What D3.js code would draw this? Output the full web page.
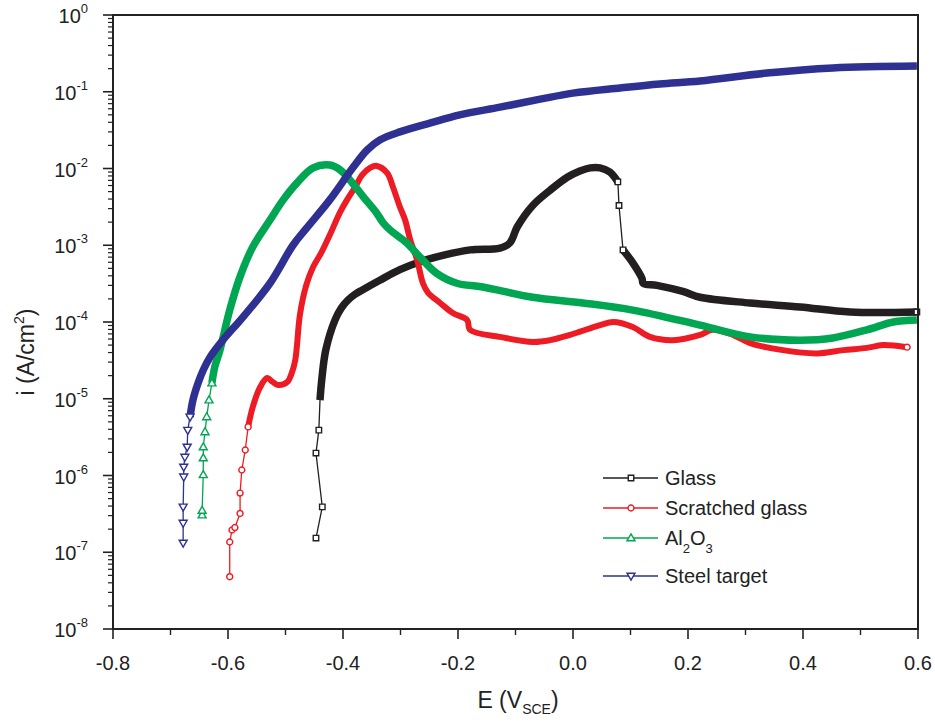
<!DOCTYPE html>
<html><head><meta charset="utf-8">
<script src="https://cdn.jsdelivr.net/npm/d3@7"></script>
<style>
body{margin:0;background:#fff}
svg{display:block}
text{font-family:"Liberation Sans",Arial,Helvetica,sans-serif;fill:#222}
</style>
</head><body>
<svg id="chart" width="935" height="727"></svg>
<script>
// ---------- data (E in V vs SCE, i in A/cm^2) ----------
const glassE = [-0.447,-0.436,-0.447,-0.442,-0.440,-0.437,-0.430,-0.414,-0.403,-0.391,-0.379,-0.367,-0.336,-0.301,-0.266,-0.223,-0.179,-0.127,-0.110,-0.097,-0.070,-0.040,-0.010,0.012,0.030,0.047,0.064,0.078,0.080,0.087,0.104,0.120,0.122,0.146,0.191,0.221,0.308,0.395,0.482,0.598];
const glassI = [1.53e-7,3.9e-7,1.96e-6,3.9e-6,9.6e-6,1.75e-5,4.3e-5,1.06e-4,1.52e-4,1.94e-4,2.3e-4,2.6e-4,3.5e-4,4.8e-4,6.1e-4,7.5e-4,8.7e-4,9.2e-4,1.07e-3,1.73e-3,3.3e-3,5.2e-3,7.7e-3,9.3e-3,1.02e-2,1.02e-2,9.0e-3,6.7e-3,3.3e-3,8.7e-4,5.9e-4,3.7e-4,3.2e-4,3.0e-4,2.5e-4,2.1e-4,1.77e-4,1.57e-4,1.35e-4,1.35e-4];

const scratchedE = [-0.597,-0.597,-0.593,-0.588,-0.579,-0.579,-0.576,-0.570,-0.565,-0.557,-0.544,-0.532,-0.522,-0.513,-0.497,-0.489,-0.483,-0.480,-0.475,-0.464,-0.452,-0.437,-0.423,-0.405,-0.393,-0.379,-0.367,-0.353,-0.341,-0.323,-0.313,-0.301,-0.292,-0.283,-0.271,-0.261,-0.252,-0.231,-0.209,-0.184,-0.179,-0.127,-0.070,-0.040,-0.005,0.047,0.070,0.104,0.134,0.174,0.221,0.243,0.278,0.308,0.365,0.424,0.470,0.511,0.539,0.581];
const scratchedI = [4.8e-8,1.36e-7,1.95e-7,2.1e-7,3.2e-7,5.9e-7,1.18e-6,2.15e-6,4.3e-6,7.8e-6,1.42e-5,1.86e-5,1.65e-5,1.51e-5,1.65e-5,2.17e-5,3.2e-5,5.0e-5,1.23e-4,3.0e-4,5.2e-4,8.2e-4,1.36e-3,2.7e-3,3.9e-3,5.7e-3,8.2e-3,1.02e-2,1.08e-2,8.7e-3,5.7e-3,3.15e-3,2.13e-3,1.17e-3,6.4e-4,3.2e-4,2.4e-4,1.77e-4,1.31e-4,1.06e-4,7.9e-5,6.4e-5,5.5e-5,5.8e-5,6.8e-5,9.1e-5,1.0e-4,8.6e-5,6.4e-5,5.8e-5,6.8e-5,7.9e-5,6.8e-5,5.3e-5,4.3e-5,3.9e-5,4.3e-5,4.6e-5,5.0e-5,4.7e-5];

const aluminaE = [-0.645,-0.645,-0.643,-0.643,-0.643,-0.640,-0.637,-0.633,-0.628,-0.623,-0.614,-0.597,-0.579,-0.557,-0.527,-0.504,-0.480,-0.452,-0.423,-0.405,-0.388,-0.365,-0.341,-0.330,-0.318,-0.289,-0.266,-0.237,-0.202,-0.157,-0.070,0.017,0.104,0.221,0.308,0.395,0.452,0.511,0.557,0.598];
const aluminaI = [3.05e-7,3.5e-7,1.02e-6,1.69e-6,2.35e-6,3.7e-6,5.8e-6,9.6e-6,1.6e-5,2.6e-5,4.3e-5,1.43e-4,3.9e-4,9.5e-4,2.13e-3,3.9e-3,6.5e-3,1.02e-2,1.11e-2,9.6e-3,7.1e-3,4.3e-3,2.6e-3,1.95e-3,1.58e-3,1.07e-3,7.0e-4,4.3e-4,3.2e-4,2.86e-4,2.1e-4,1.77e-4,1.43e-4,9.1e-5,6.4e-5,5.8e-5,6.2e-5,7.9e-5,1.0e-4,1.06e-4];

const steelE = [-0.678,-0.678,-0.678,-0.677,-0.677,-0.675,-0.671,-0.670,-0.666,-0.661,-0.652,-0.643,-0.631,-0.609,-0.574,-0.527,-0.487,-0.463,-0.423,-0.383,-0.358,-0.336,-0.301,-0.249,-0.197,-0.127,-0.057,0.000,0.082,0.151,0.221,0.337,0.452,0.598];
const steelI = [1.32e-7,2.4e-7,3.9e-7,9.6e-7,1.29e-6,1.74e-6,2.35e-6,3.9e-6,5.8e-6,9.6e-6,1.6e-5,2.37e-5,3.5e-5,5.8e-5,1.16e-4,3.2e-4,1.0e-3,1.68e-3,3.9e-3,1.02e-2,1.74e-2,2.35e-2,3.0e-2,3.9e-2,5.0e-2,6.3e-2,8.0e-2,9.6e-2,0.112,0.126,0.138,0.175,0.204,0.216];

const seriesNames = ["Glass","Scratched glass","Al2O3","Steel target"];
const xTickValues = [-0.8,-0.6,-0.4,-0.2,0.0,0.2,0.4,0.6];
const yTickExponents = [-8,-7,-6,-5,-4,-3,-2,-1,0];

// ---------- styles ----------
const series = [
  {name:seriesNames[0], E:glassE, I:glassI, color:"#231f20", marker:"square", bands:[[4,27],[29,39]], sparse:[0,1,2,3,27,28,29,39]},
  {name:seriesNames[1], E:scratchedE, I:scratchedI, color:"#ed1c24", marker:"circle", bands:[[8,59]], sparse:[0,1,2,3,4,5,6,7,8,59]},
  {name:seriesNames[2], E:aluminaE, I:aluminaI, color:"#00a651", marker:"up", bands:[[8,39]], sparse:[0,1,2,3,4,5,6,7,8]},
  {name:seriesNames[3], E:steelE, I:steelI, color:"#2e3192", marker:"down", bands:[[8,33]], sparse:[0,1,2,3,4,5,6,7,8]}
];

const L=113,R=918,T=15,B=629;
const svg = d3.select("#chart");
const x = d3.scaleLinear().domain([-0.8,0.6]).range([L,R]);
const y = d3.scaleLog().domain([1e-8,1]).range([B,T]);

function markerPath(type){
  if(type==="square") return d3.symbol().type(d3.symbolSquare).size(30)();
  if(type==="circle") return d3.symbol().type(d3.symbolCircle).size(28)();
  if(type==="up") return "M0,-4.2L4,2.8L-4,2.8Z";
  return "M0,4.2L4,-2.8L-4,-2.8Z";
}

const plot = svg.append("g");
const thin = d3.line().x(d=>x(d[0])).y(d=>y(d[1]));
const band = d3.line().x(d=>x(d[0])).y(d=>y(d[1])).curve(d3.curveCatmullRom.alpha(0.5));

series.forEach(s=>{
  const pts = s.E.map((e,i)=>[e,s.I[i]]);
  const g = plot.append("g");
  g.append("path").attr("d",thin(pts)).attr("fill","none").attr("stroke",s.color).attr("stroke-width",1.3);
  s.bands.forEach(([a,b])=>{
    g.append("path").attr("d",band(pts.slice(a,b+1))).attr("fill","none")
      .attr("stroke",s.color).attr("stroke-width",s.marker==="circle"?6:7.5)
      .attr("stroke-linecap","butt").attr("stroke-linejoin","round");
  });
  g.selectAll("path.m").data(s.sparse.map(i=>pts[i])).join("path").attr("class","m")
    .attr("d",markerPath(s.marker))
    .attr("transform",d=>`translate(${x(d[0])},${y(d[1])})`)
    .attr("fill","#fff").attr("stroke",s.color).attr("stroke-width",1.4);
});

// ---------- axes ----------
const ax = svg.append("g").attr("stroke","#222").attr("fill","none");
ax.append("rect").attr("x",L).attr("y",T).attr("width",R-L).attr("height",B-T).attr("stroke-width",2);

const xMinor = d3.range(-0.7,0.6,0.2);
xTickValues.forEach(v=>ax.append("line").attr("x1",x(v)).attr("x2",x(v)).attr("y1",B).attr("y2",B+10).attr("stroke-width",1.6));
xMinor.forEach(v=>ax.append("line").attr("x1",x(v)).attr("x2",x(v)).attr("y1",B).attr("y2",B+6).attr("stroke-width",1.4));
svg.selectAll("text.xt").data(xTickValues).join("text").attr("class","xt")
  .attr("x",d=>x(d)).attr("y",B+41).attr("text-anchor","middle").attr("font-size",20)
  .text(d=>d.toFixed(1));

yTickExponents.forEach(e=>{
  const v=Math.pow(10,e);
  ax.append("line").attr("x1",L-10).attr("x2",L).attr("y1",y(v)).attr("y2",y(v)).attr("stroke-width",1.6);
  if(e<0){
    for(let k=2;k<=9;k++){
      ax.append("line").attr("x1",L-5).attr("x2",L).attr("y1",y(k*v)).attr("y2",y(k*v)).attr("stroke-width",1.2);
    }
  }
  const t=svg.append("text").attr("x",88).attr("y",y(v)+8).attr("text-anchor","end").attr("font-size",20);
  t.append("tspan").text("10");
  t.append("tspan").attr("dy",-10).attr("font-size",13).text(e===0?"0":"-"+Math.abs(e));
});

const xt = svg.append("text").attr("x",518).attr("y",708).attr("text-anchor","middle").attr("font-size",23);
xt.append("tspan").text("E (V");
xt.append("tspan").attr("dy",6).attr("font-size",14).text("SCE");
xt.append("tspan").attr("dy",-6).text(")");

const yt = svg.append("text").attr("transform","translate(34,352) rotate(-90)").attr("text-anchor","middle").attr("font-size",23);
yt.append("tspan").text("i (A/cm");
yt.append("tspan").attr("dy",-10).attr("font-size",14).text("2");
yt.append("tspan").attr("dy",10).text(")");

// ---------- legend ----------
const legY=[478,508,538,576];
series.forEach((s,i)=>{
  const g=svg.append("g");
  g.append("line").attr("x1",603).attr("x2",658).attr("y1",legY[i]).attr("y2",legY[i]).attr("stroke",s.color).attr("stroke-width",1.5);
  g.append("path").attr("d",markerPath(s.marker)).attr("transform",`translate(631,${legY[i]})`)
    .attr("fill","#fff").attr("stroke",s.color).attr("stroke-width",1.4);
  const t=g.append("text").attr("x",665).attr("y",legY[i]+7).attr("font-size",20);
  if(s.name==="Al2O3"){
    t.append("tspan").text("Al");
    t.append("tspan").attr("dy",8).attr("font-size",13).text("2");
    t.append("tspan").attr("dy",-8).text("O");
    t.append("tspan").attr("dy",8).attr("font-size",13).text("3");
  } else t.text(s.name);
});
</script>
</body></html>
